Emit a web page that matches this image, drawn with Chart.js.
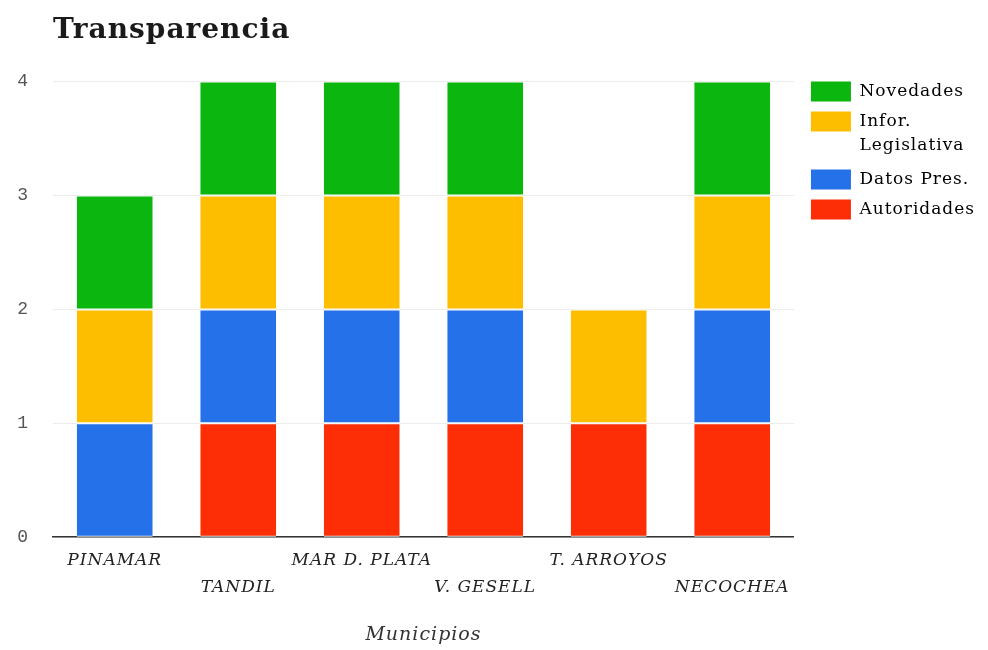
<!DOCTYPE html>
<html>
<head>
<meta charset="utf-8">
<script src="https://cdn.jsdelivr.net/npm/chart.js@4/dist/chart.umd.min.js"></script>
<style>
  html, body { margin: 0; padding: 0; background: #ffffff; }
  #wrap { width: 988px; height: 650px; }
</style>
</head>
<body>
<div id="wrap"><canvas id="chart"></canvas></div>
<script>
// Municipalities (x axis) and the transparency items scored for each one
const municipios = ['PINAMAR', 'TANDIL', 'MAR D. PLATA', 'V. GESELL', 'T. ARROYOS', 'NECOCHEA'];

const autoridades   = [0, 1, 1, 1, 1, 1];
const datosPres     = [1, 1, 1, 1, 0, 1];
const inforLegisl   = [1, 1, 1, 1, 1, 1];
const novedades     = [1, 1, 1, 1, 0, 1];

const yTicks = [0, 1, 2, 3, 4];

const serif = "'DejaVu Serif', 'Liberation Serif', serif";

// Wider tracking for every canvas text run
const tracking = {
  id: 'tracking',
  beforeUpdate(chart) { chart.ctx.letterSpacing = '1px'; },
  beforeDraw(chart) { chart.ctx.letterSpacing = '1px'; }
};

// Put the first legend row level with the top of the plot area,
// a little to the right of its right edge
const legendPlace = {
  id: 'legendPlace',
  afterLayout(chart) {
    const lg = chart.legend;
    if (!lg) return;
    const pad = lg.options.labels.padding;
    const dy = chart.chartArea.top - pad - lg.top;
    const dx = chart.chartArea.right + 17 - pad - lg.left;
    lg.top += dy;
    lg.bottom += dy;
    lg.left += dx;
    lg.right += dx;
  }
};

new Chart(document.getElementById('chart'), {
  type: 'bar',
  data: {
    labels: municipios,
    datasets: [
      { label: 'Autoridades',             data: autoridades, backgroundColor: '#fd2e05' },
      { label: 'Datos Pres.',             data: datosPres,   backgroundColor: '#2571e9' },
      { label: ['Infor.', 'Legislativa'], data: inforLegisl, backgroundColor: '#fdbe00' },
      { label: 'Novedades',               data: novedades,   backgroundColor: '#0bb70f' }
    ].map(ds => Object.assign(ds, {
      borderColor: '#ffffff',
      borderWidth: { top: 1, bottom: 1, left: 0, right: 0 },
      borderSkipped: false,
      barPercentage: 0.615,
      categoryPercentage: 1.0
    }))
  },
  options: {
    responsive: true,
    maintainAspectRatio: false,
    animation: false,
    layout: { padding: { left: 17, right: 10, top: 0, bottom: 0 } },
    plugins: {
      title: {
        display: true,
        text: 'Transparencia',
        align: 'start',
        fullSize: false,
        color: '#1a1a1a',
        font: { family: serif, size: 28, weight: 'bold' },
        padding: { top: 14, bottom: 34 }
      },
      legend: {
        position: 'right',
        align: 'start',
        fullSize: false,
        reverse: true,
        labels: {
          boxWidth: 40,
          boxHeight: 20,
          padding: 10,
          color: '#222222',
          font: { family: serif, size: 17, lineHeight: '24px' },
          generateLabels(chart) {
            return chart.data.datasets.map((ds, i) => ({
              text: ds.label,
              fillStyle: ds.backgroundColor,
              strokeStyle: ds.backgroundColor,
              lineWidth: 0,
              hidden: false,
              datasetIndex: i
            }));
          }
        }
      },
      tooltip: { enabled: false }
    },
    scales: {
      x: {
        stacked: true,
        grid: { display: false, drawTicks: false },
        border: { display: true, color: '#333333', width: 1.5 },
        ticks: {
          autoSkip: false,
          maxRotation: 0,
          minRotation: 0,
          padding: 10,
          color: '#222222',
          font: { family: serif, size: 17, style: 'italic', lineHeight: '27px' },
          // staggered labels: every second municipality drops to a second row
          callback(value, index) {
            const name = this.getLabelForValue(value);
            return index % 2 === 1 ? ['', name] : name;
          }
        },
        title: {
          display: true,
          text: 'Municipios',
          color: '#333333',
          font: { family: serif, size: 19, style: 'italic' },
          padding: { top: 12, bottom: 4 }
        }
      },
      y: {
        stacked: true,
        min: 0,
        max: 4,
        afterBuildTicks(scale) { scale.ticks = yTicks.map(v => ({ value: v })); },
        afterFit(scale) { scale.width = 36; },
        grid: { color: '#ececec', drawTicks: false },
        border: { display: false },
        ticks: {
          padding: 24,
          color: '#555555',
          font: { family: "'Liberation Mono', 'DejaVu Sans Mono', monospace", size: 18 }
        }
      }
    }
  },
  plugins: [tracking, legendPlace]
});
</script>
</body>
</html>
